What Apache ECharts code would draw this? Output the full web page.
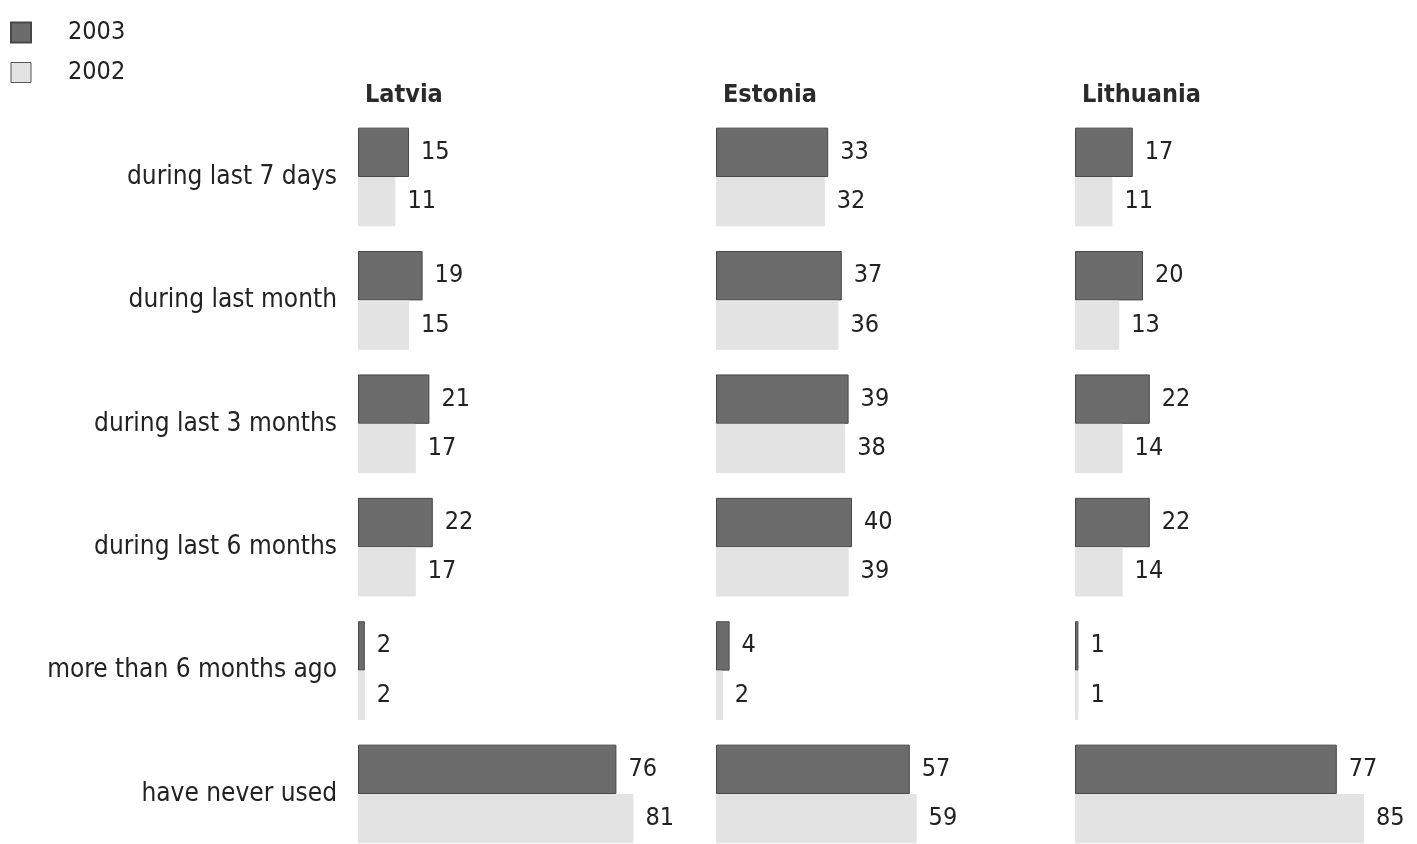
<!DOCTYPE html>
<html>
<head>
<meta charset="utf-8">
<script src="https://cdn.jsdelivr.net/npm/echarts@6/dist/echarts.min.js"></script>
<style>
  html, body { margin: 0; padding: 0; background: #fff; }
  #chart { width: 1417px; height: 844px; }
</style>
</head>
<body>
<div id="chart"></div>
<script>
// Periods of use, top to bottom
const categories = [
  'during last 7 days',
  'during last month',
  'during last 3 months',
  'during last 6 months',
  'more than 6 months ago',
  'have never used'
];
const countries = ['Latvia', 'Estonia', 'Lithuania'];
const years = ['2003', '2002'];

// Shares (%) per country
const latvia2003 = [15, 19, 21, 22, 2, 76];
const latvia2002 = [11, 15, 17, 17, 2, 81];
const estonia2003 = [33, 37, 39, 40, 4, 57];
const estonia2002 = [32, 36, 38, 39, 2, 59];
const lithuania2003 = [17, 20, 22, 22, 1, 77];
const lithuania2002 = [11, 13, 14, 14, 1, 85];

const values = [
  [latvia2003, latvia2002],
  [estonia2003, estonia2002],
  [lithuania2003, lithuania2002]
];

const FONT = '"Liberation Sans Narrow", "DejaVu Sans Condensed", "Liberation Sans", sans-serif';
const colors = { '2003': '#6c6c6c', '2002': '#e3e3e3' };
const borders = { '2003': '#474747', '2002': '#e3e3e3' };

const panelLeft = [358, 716, 1075];
const panelWidth = 340;   // 0..100 %
// Category centres sit on the axis ticks (boundaryGap off); bars overhang the grid
const gridTop = 177;
const gridHeight = 617;

const grids = [], xAxes = [], yAxes = [], series = [], titles = [];

countries.forEach((name, i) => {
  grids.push({ left: panelLeft[i], top: gridTop, width: panelWidth, height: gridHeight, containLabel: false });
  xAxes.push({
    gridIndex: i, type: 'value', min: 0, max: 100,
    show: false
  });
  yAxes.push({
    gridIndex: i, type: 'category', data: categories, inverse: true,
    boundaryGap: false,
    axisLine: { show: false }, axisTick: { show: false }, splitLine: { show: false },
    axisLabel: {
      show: i === 0, color: '#222', fontFamily: FONT, fontSize: 26,
      margin: 21, padding: [6, 0, 0, 0]
    }
  });
  titles.push({
    text: name, left: panelLeft[i] + 2, top: 78,
    textStyle: { fontFamily: FONT, fontSize: 25, fontWeight: 'bold', color: '#2a2a2a' }
  });
  years.forEach((y, k) => {
    series.push({
      name: y, type: 'bar', xAxisIndex: i, yAxisIndex: i,
      data: values[i][k],
      clip: false,
      barGap: '0%', barCategoryGap: '20%',
      itemStyle: { color: colors[y], borderColor: borders[y], borderWidth: 1 },
      label: {
        show: true, position: 'right', distance: 12,
        fontFamily: FONT, fontSize: 25, color: '#222'
      },
      emphasis: { disabled: true }
    });
  });
});

const chart = echarts.init(document.getElementById('chart'), null, { renderer: 'canvas' });
chart.setOption({
  animation: false,
  title: titles,
  legend: {
    data: [
      { name: '2003' },
      { name: '2002', itemStyle: { borderColor: '#555', borderWidth: 1 } }
    ],
    orient: 'vertical', left: 5, top: 15,
    itemWidth: 20, itemHeight: 20, itemGap: 15,
    icon: 'rect',
    textStyle: { fontFamily: FONT, fontSize: 25, lineHeight: 20, color: '#222', padding: [0, 0, 0, 32] }
  },
  grid: grids,
  xAxis: xAxes,
  yAxis: yAxes,
  series: series
});
</script>
</body>
</html>
